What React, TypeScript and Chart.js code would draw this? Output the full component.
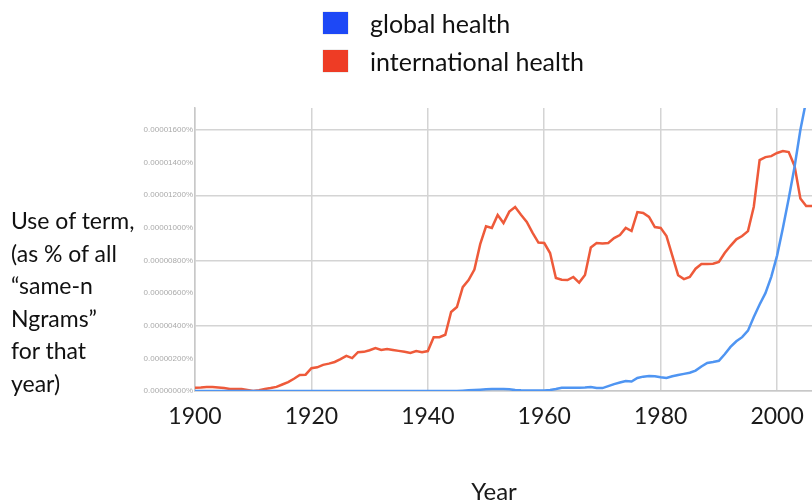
import React, { useEffect, useRef } from "react";
import { Chart, registerables } from "chart.js";

Chart.register(...registerables);

const START_YEAR = 1900;
const END_YEAR = 2006;
const X_TICKS = [1900, 1920, 1940, 1960, 1980, 2000];
const Y_TICKS = [0, 200, 400, 600, 800, 1000, 1200, 1400, 1600];
const Y_GRID_STEP = 400;
const Y_MAX = 1735;

const SERIES_NAMES = ["global health", "international health"];

// values in units of 0.00000001 %
const globalHealth = [
  0, 0, 0, 0, 0, 0, 0, 0, 0, 0,
  0, 0, 0, 0, 0, 0, 0, 0, 0, 0,
  0, 0, 0, 0, 0, 0, 0, 0, 0, 0,
  0, 0, 0, 0, 0, 0, 0, 0, 0, 0,
  0, 0, 0, 0, 0, 0, 2, 4, 6, 8,
  10, 12, 12, 12, 10, 6, 4, 3, 3, 3,
  3, 6, 12, 20, 20, 20, 20, 22, 25, 18,
  18, 30, 42, 52, 61, 58, 80, 88, 92, 90,
  84, 80, 90, 98, 105, 112, 125, 150, 172, 178,
  185, 225, 270, 305, 330, 370, 454, 530, 600, 700,
  830, 1000, 1180, 1373, 1600, 1780, 1950,
];

const internationalHealth = [
  20, 22, 25, 24, 22, 18, 13, 12, 12, 6,
  0, 5, 12, 18, 25, 40, 55, 75, 98, 100,
  140, 145, 160, 168, 178, 195, 215, 202, 238, 240,
  250, 263, 252, 258, 252, 246, 240, 233, 245, 238,
  245, 330, 330, 345, 484, 515, 637, 680, 745, 900,
  1010, 1000, 1079, 1030, 1100, 1128, 1080, 1036, 969, 910,
  907, 846, 693, 682, 680, 699, 665, 711, 880, 907,
  905, 907, 937, 956, 1000, 981, 1097, 1091, 1067, 1005,
  1000, 950, 830, 710, 686, 699, 750, 779, 779, 780,
  791, 846, 890, 930, 950, 980, 1130, 1416, 1434, 1440,
  1459, 1471, 1465, 1380, 1180, 1134, 1134,
];

const Y_TITLE_LINES = [
  "Use of term,",
  "(as % of all",
  "\u201csame-n",
  "Ngrams\u201d",
  "for that",
  "year)",
];
const X_TITLE = "Year";

const LINE_COLORS = ["#4f95f2", "#ee5a3a"];
const LEGEND_COLORS = ["#1d48f6", "#ee3c25"];

const formatY = (v: number) =>
  "0.0000" + String(Math.round(v)).padStart(4, "0") + "%";

export default function App() {
  const canvasRef = useRef<HTMLCanvasElement | null>(null);

  useEffect(() => {
    if (!canvasRef.current) return;
    const toPoints = (arr: number[]) =>
      arr.map((v, i) => ({ x: START_YEAR + i, y: v }));
    const chart = new Chart(canvasRef.current, {
      type: "line",
      data: {
        datasets: [
          {
            label: SERIES_NAMES[0],
            data: toPoints(globalHealth),
            borderColor: LINE_COLORS[0],
            borderWidth: 2.5,
            pointRadius: 0,
            tension: 0,
          },
          {
            label: SERIES_NAMES[1],
            data: toPoints(internationalHealth),
            borderColor: LINE_COLORS[1],
            borderWidth: 2.5,
            pointRadius: 0,
            tension: 0,
          },
        ],
      },
      options: {
        animation: false,
        responsive: false,
        maintainAspectRatio: false,
        layout: { padding: { top: 108, right: -4, left: 0, bottom: 0 } },
        plugins: {
          legend: { display: false },
          tooltip: { enabled: false },
        },
        scales: {
          x: {
            type: "linear",
            min: START_YEAR,
            max: END_YEAR,
            afterBuildTicks: (s: any) => {
              s.ticks = X_TICKS.map((v) => ({ value: v }));
            },
            afterFit: (s: any) => {
              s.height = 113;
              s.paddingRight = 0;
            },
            ticks: {
              autoSkip: false,
              padding: 12,
              color: "#1a1a1a",
              font: { family: "Lato", size: 23 },
              maxRotation: 0,
              callback: (v: any) => String(v),
            },
            grid: {
              color: "#d4d4d4",
              lineWidth: 1.5,
              drawTicks: false,
            },
            border: { color: "#c8c8c8", width: 1.5 },
          },
          y: {
            type: "linear",
            min: 0,
            max: Y_MAX,
            afterBuildTicks: (s: any) => {
              s.ticks = Y_TICKS.map((v) => ({ value: v }));
            },
            afterFit: (s: any) => {
              s.width = 195;
            },
            ticks: {
              autoSkip: false,
              padding: 2,
              color: "#aaaaaa",
              font: { family: "Liberation Sans", size: 8 },
              callback: (v: any) => formatY(Number(v)),
            },
            grid: {
              color: (ctx: any) =>
                ctx.tick && ctx.tick.value % Y_GRID_STEP === 0
                  ? "#d4d4d4"
                  : "rgba(0,0,0,0)",
              lineWidth: 1.5,
              drawTicks: false,
            },
            border: { color: "#c8c8c8", width: 1.5 },
          },
        },
      },
    });
    return () => chart.destroy();
  }, []);

  return (
    <div
      style={{
        position: "absolute",
        left: 0,
        top: 0,
        width: 812,
        height: 504,
        background: "#fff",
        overflow: "hidden",
        fontFamily: "Lato, 'Open Sans', sans-serif",
        color: "#111",
      }}
    >
      <canvas
        ref={canvasRef}
        width={812}
        height={504}
        style={{ position: "absolute", left: 0, top: 0 }}
      />
      {SERIES_NAMES.map((name, i) => (
        <div
          key={name}
          style={{
            position: "absolute",
            left: 323,
            top: 9 + i * 38,
            height: 28,
            display: "flex",
            alignItems: "center",
            fontSize: 25,
            whiteSpace: "nowrap",
          }}
        >
          <span
            style={{
              display: "inline-block",
              width: 25,
              height: 22,
              background: LEGEND_COLORS[i],
              marginRight: 22,
              boxShadow: "0 0 1px rgba(0,0,0,0.4)",
            }}
          />
          {name}
        </div>
      ))}
      <div
        style={{
          position: "absolute",
          left: 11,
          top: 204,
          fontSize: 23,
          lineHeight: "32.5px",
          whiteSpace: "nowrap",
        }}
      >
        {Y_TITLE_LINES.map((l) => (
          <div key={l}>{l}</div>
        ))}
      </div>
      <div
        style={{
          position: "absolute",
          left: 444,
          width: 100,
          top: 476,
          textAlign: "center",
          fontSize: 24,
          color: "#1a1a1a",
        }}
      >
        {X_TITLE}
      </div>
    </div>
  );
}
